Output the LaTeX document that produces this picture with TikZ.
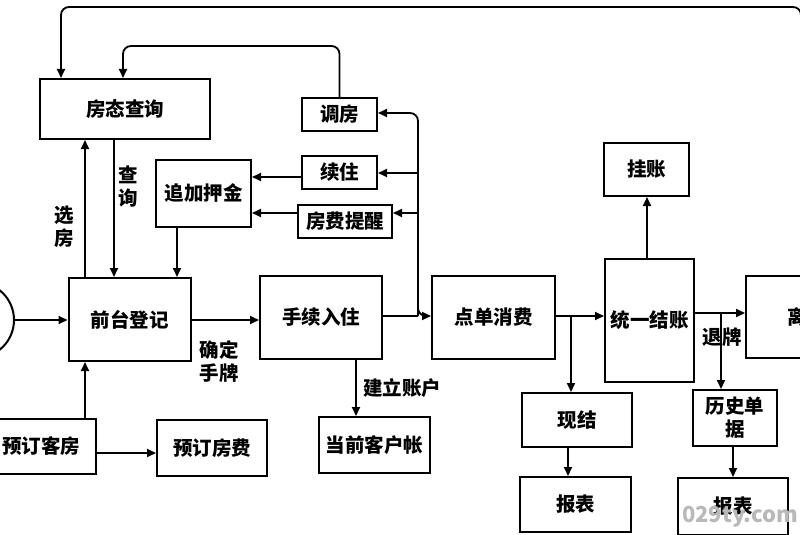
\documentclass[tikz,border=0pt]{standalone}
\usepackage{fontspec}
\setmainfont{Noto Sans CJK SC}
\usetikzlibrary{arrows.meta,calc}
\begin{document}
\begin{tikzpicture}[x=1pt,y=-1pt,
 box/.style={draw,line width=2pt,inner sep=0pt,font=\fontsize{19.5}{23}\selectfont\bfseries,align=center},
 conn/.style={line width=1.8pt,-{Triangle[length=9pt,width=8pt]}},
 plain/.style={line width=1.8pt},
 lbl/.style={font=\fontsize{19.5}{23}\selectfont\bfseries,inner sep=0pt,align=center}]
\useasboundingbox (0,0) rectangle (800,535);
% boxes
\node[box,minimum width=170pt,minimum height=60pt] (fangtai) at (125,109) {房态查询};
\node[box,minimum width=75pt,minimum height=33pt] (tiaofang) at (339.5,114.5) {调房};
\node[box,minimum width=75pt,minimum height=33pt] (xuzhu) at (339.5,172.5) {续住};
\node[box,minimum width=94pt,minimum height=33pt] (tixing) at (345,221.5) {房费提醒};
\node[box,minimum width=95pt,minimum height=67pt] (zhuijia) at (203.5,193.5) {追加押金};
\node[box,minimum width=122pt,minimum height=83pt] (qiantai) at (129.5,319.5) {前台登记};
\node[box,minimum width=122pt,minimum height=83pt] (shouxu) at (321,317.5) {手续入住};
\node[box,minimum width=123pt,minimum height=83pt] (dingdan) at (493.5,317.5) {点单消费};
\node[box,minimum width=89pt,minimum height=123pt] (tongyi) at (649.5,320.5) {统一结账};
\node[box,minimum width=122pt,minimum height=82pt] (lidian) at (807,317) {离店};
\node[box,minimum width=85pt,minimum height=53pt] (guazhang) at (646.5,169.5) {挂账};
\node[box,minimum width=111pt,minimum height=56pt] (dangqian) at (374.5,445) {当前客户帐};
\node[box,minimum width=110pt,minimum height=55pt] (yuding) at (41,446.5) {预订客房};
\node[box,minimum width=110pt,minimum height=56pt] (yudingfei) at (212,448) {预订房费};
\node[box,minimum width=110pt,minimum height=54pt] (xianjie) at (577,420) {现结};
\node[box,minimum width=111pt,minimum height=55pt] (baobiaoa) at (575.5,504.5) {报表};
\node[box,minimum width=84pt,minimum height=56pt] (lishi) at (735,418) {历史单\\据};
\node[box,minimum width=110pt,minimum height=57pt] (baobiaob) at (733,506.5) {报表};
\node[draw,circle,line width=2pt,minimum size=76pt,inner sep=0pt] (start) at (-24,320) {};
% labels
\node[lbl] (lxuan) at (64,227) {选\\房};
\node[lbl] (lcha) at (128,187) {查\\询};
\node[lbl] (lque) at (219,361) {确定\\手牌};
\node[lbl] (ljian) at (402,388) {建立账户};
\node[lbl] (ltui) at (722,337) {退牌};
\node[font=\fontsize{22}{24}\selectfont\bfseries,text=gray!55,inner sep=0pt] (wm) at (740,517) {029ty.com};
% helper coordinates
\coordinate (x85) at (85,0);
\coordinate (x114) at (114,0);
\coordinate (x177) at (177,0);
\coordinate (x356) at (356,0);
\coordinate (x418) at (418,0);
\coordinate (x571) at (571,0);
\coordinate (x568) at (568,0);
\coordinate (x647) at (647,0);
\coordinate (x721) at (721,0);
\coordinate (x733) at (733,0);
\coordinate (x801) at (801,0);
\coordinate (y113) at (0,113);
\coordinate (y173) at (0,173);
\coordinate (y177) at (0,177);
\coordinate (y213) at (0,213);
\coordinate (y316) at (0,316);
\coordinate (y313) at (0,313);
\coordinate (y320) at (0,320);
\coordinate (y453) at (0,453);
\coordinate (k46) at (123,46);
\coordinate (k7) at (61,7);
\coordinate (b316) at (418,316);
\coordinate (b300) at (418,300);
% connectors
\draw[conn] (start.east) -- (qiantai.west |- start.east);
\draw[conn] (yuding.north -| x85) -- (qiantai.south -| x85);
\draw[conn] (qiantai.north -| x85) -- (fangtai.south -| x85);
\draw[conn] (fangtai.south -| x114) -- (qiantai.north -| x114);
\draw[conn] (zhuijia.south -| x177) -- (qiantai.north -| x177);
\draw[conn] (xuzhu.west |- y177) -- (zhuijia.east |- y177);
\draw[conn] (tixing.west |- y213) -- (zhuijia.east |- y213);
\draw[conn] (qiantai.east |- y320) -- (shouxu.west |- y320);
\draw[plain] (shouxu.east |- y316) -- (b316);
\draw[conn,rounded corners=8pt] (b316) |- (tiaofang.east |- y113);
\draw[conn,rounded corners=8pt] (b300) |- (dingdan.west |- y316);
\draw[conn] (x418 |- y173) -- (xuzhu.east |- y173);
\draw[conn] (x418 |- y213) -- (tixing.east |- y213);
\draw[conn,rounded corners=8pt] (tiaofang.north) |- (k46) -- (fangtai.north -| k46);
\draw[conn,rounded corners=8pt] (lidian.north -| x801) |- (k7) -- (fangtai.north -| k7);
\draw[conn] (shouxu.south -| x356) -- (dangqian.north -| x356);
\draw[conn] (yuding.east |- y453) -- (yudingfei.west |- y453);
\draw[conn] (dingdan.east |- y316) -- (tongyi.west |- y316);
\draw[conn] (x571 |- y316) -- (xianjie.north -| x571);
\draw[conn] (xianjie.south -| x568) -- (baobiaoa.north -| x568);
\draw[conn] (tongyi.north -| x647) -- (guazhang.south -| x647);
\draw[conn] (tongyi.east |- y313) -- (lidian.west |- y313);
\draw[conn] (x721 |- y313) -- (lishi.north -| x721);
\draw[conn] (lishi.south -| x733) -- (baobiaob.north -| x733);
\end{tikzpicture}
\end{document}
